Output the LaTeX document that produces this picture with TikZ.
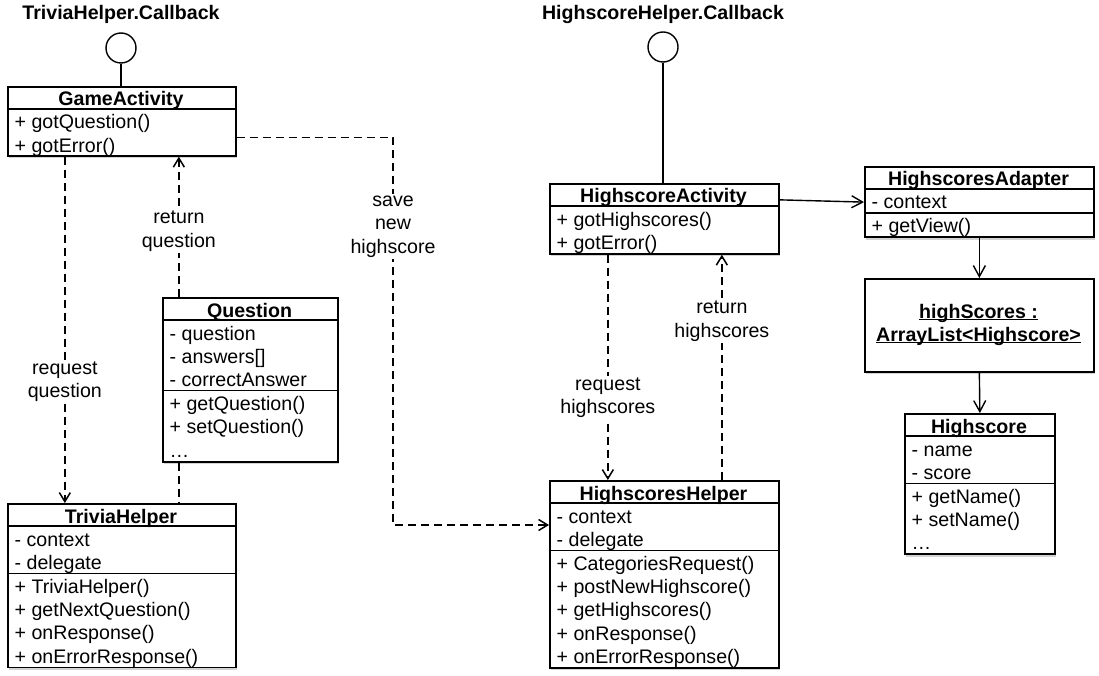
\documentclass[tikz,border=0pt]{standalone}
\usepackage{fontspec}
\setmainfont{Liberation Sans}
\usetikzlibrary{arrows.meta,shadows}

\tikzset{
  every node/.style={font=\fontsize{19.6}{23.3}\selectfont},
  classbox/.style={draw, line width=1.7pt, fill=white, anchor=north west, inner sep=0pt,
    drop shadow={opacity=0.35, shadow xshift=1.5pt, shadow yshift=-2.5pt}},
  ctitle/.style={anchor=base, inner sep=0pt, font=\fontsize{19.6}{23.3}\selectfont\bfseries},
  row/.style={anchor=base west, inner sep=0pt},
  divider/.style={line width=1.4pt},
  iface/.style={draw, circle, line width=1.4pt, minimum size=30pt, inner sep=0pt},
  lbl/.style={fill=white, align=center, inner sep=1.5pt},
  depline/.style={line width=1.5pt, dash pattern=on 8pt off 5pt},
  dep/.style={depline, -{Straight Barb[length=9pt,width=11pt]}},
  assoc/.style={line width=1.4pt, -{Straight Barb[length=11pt,width=12pt]}}
}

\begin{document}
\begin{tikzpicture}[x=1pt, y=-1pt]
\useasboundingbox (0,0) rectangle (1099,676);

% interfaces
\node[iface] (tcb) at (121,48) {};
\node[ctitle] (tcb-name) at (121,20) {TriviaHelper.Callback};
\node[iface] (hcb) at (663,47) {};
\node[ctitle] (hcb-name) at (663,20) {HighscoreHelper.Callback};

% GameActivity
\node[classbox, minimum width=228pt, minimum height=69pt] (ga) at (7,86) {};
\node[ctitle] (ga-t) at (121,106) {GameActivity};
\draw[divider] (ga.north west) ++(0,23) -- ++(228,0);
\foreach \r [count=\i] in {{+ gotQuestion()},{+ gotError()}}
  \node[row] (ga-\i) at (14.5,{129+23.3*(\i-1)}) {\r};

% Question
\node[classbox, minimum width=175pt, minimum height=164pt] (q) at (162,297) {};
\node[ctitle] (q-t) at (249.5,317) {Question};
\draw[divider] (q.north west) ++(0,23) -- ++(175,0);
\draw[divider] (q.north west) ++(0,93.6) -- ++(175,0);
\foreach \r [count=\i] in {{- question},{- answers[]},{- correctAnswer}}
  \node[row] (q-a\i) at (169.5,{340+23.3*(\i-1)}) {\r};
\foreach \r [count=\i] in {{+ getQuestion()},{+ setQuestion()},{…}}
  \node[row] (q-o\i) at (169.5,{410.6+23.3*(\i-1)}) {\r};

% TriviaHelper
\node[classbox, minimum width=228pt, minimum height=163.7pt] (th) at (7,503) {};
\node[ctitle] (th-t) at (121,523) {TriviaHelper};
\draw[divider] (th.north west) ++(0,23) -- ++(228,0);
\draw[divider] (th.north west) ++(0,70.3) -- ++(228,0);
\foreach \r [count=\i] in {{- context},{- delegate}}
  \node[row] (th-a\i) at (14.5,{546+23.3*(\i-1)}) {\r};
\foreach \r [count=\i] in {{+ TriviaHelper()},{+ getNextQuestion()},{+ onResponse()},{+ onErrorResponse()}}
  \node[row] (th-o\i) at (14.5,{593.3+23.3*(\i-1)}) {\r};

% HighscoreActivity
\node[classbox, minimum width=229pt, minimum height=70pt] (ha) at (549,183) {};
\node[ctitle] (ha-t) at (663.5,203) {HighscoreActivity};
\draw[divider] (ha.north west) ++(0,23) -- ++(229,0);
\foreach \r [count=\i] in {{+ gotHighscores()},{+ gotError()}}
  \node[row] (ha-\i) at (556.5,{226+23.3*(\i-1)}) {\r};

% HighscoresHelper
\node[classbox, minimum width=229pt, minimum height=187pt] (hh) at (549,480) {};
\node[ctitle] (hh-t) at (663.5,500) {HighscoresHelper};
\draw[divider] (hh.north west) ++(0,23) -- ++(229,0);
\draw[divider] (hh.north west) ++(0,70.3) -- ++(229,0);
\foreach \r [count=\i] in {{- context},{- delegate}}
  \node[row] (hh-a\i) at (556.5,{523+23.3*(\i-1)}) {\r};
\foreach \r [count=\i] in {{+ CategoriesRequest()},{+ postNewHighscore()},{+ getHighscores()},{+ onResponse()},{+ onErrorResponse()}}
  \node[row] (hh-o\i) at (556.5,{570.3+23.3*(\i-1)}) {\r};

% HighscoresAdapter
\node[classbox, minimum width=229pt, minimum height=70.5pt] (hd) at (864,166) {};
\node[ctitle] (hd-t) at (978.5,186) {HighscoresAdapter};
\draw[divider] (hd.north west) ++(0,23) -- ++(229,0);
\draw[divider] (hd.north west) ++(0,47) -- ++(229,0);
\node[row] (hd-a1) at (871.5,209) {- context};
\node[row] (hd-o1) at (871.5,233) {+ getView()};

% highScores object
\node[classbox, minimum width=229pt, minimum height=93pt] (hs) at (864,278) {};
\node[ctitle] (hs-t1) at (978.5,318) {\underline{\smash{highScores :}}};
\node[ctitle] (hs-t2) at (978.5,341) {\underline{\smash{ArrayList<Highscore>}}};

% Highscore
\node[classbox, minimum width=150pt, minimum height=140.4pt] (hc) at (904,413) {};
\node[ctitle] (hc-t) at (979,433) {Highscore};
\draw[divider] (hc.north west) ++(0,23) -- ++(150,0);
\draw[divider] (hc.north west) ++(0,70.3) -- ++(150,0);
\foreach \r [count=\i] in {{- name},{- score}}
  \node[row] (hc-a\i) at (911.5,{456+23.3*(\i-1)}) {\r};
\foreach \r [count=\i] in {{+ getName()},{+ setName()},{…}}
  \node[row] (hc-o\i) at (911.5,{503.3+23.3*(\i-1)}) {\r};

% interface lollipops
\draw[line width=1.4pt] (tcb.south) -- (tcb.south |- ga.north);
\draw[line width=1.4pt] (hcb.south) -- (hcb.south |- ha.north);

% trivia side
\draw[dep] ([xshift=-57pt]ga.south) -- node[lbl, pos=0.65]{request\\question} ([xshift=-57pt]th.north);
\draw[dep] ([xshift=-71.5pt]q.north) -- node[lbl, pos=0.47]{return\\question} ([xshift=57pt]ga.south);
\draw[depline] ([xshift=-71.5pt]q.south) -- ([xshift=57pt]th.north);

% save new highscore
\coordinate (save) at (393,525);
\draw[dep] ([yshift=-16pt]ga.east) -| node[lbl, pos=0.615]{save\\new\\highscore} (save) -- (save -| hh.west);

% highscore side
\draw[dep] ([xshift=-56.5pt]ha.south) -- node[lbl, pos=0.634]{request\\highscores} ([xshift=-56.5pt]hh.north);
\draw[dep] ([xshift=57.5pt]hh.north) -- node[lbl, pos=0.705]{return\\highscores} ([xshift=57.5pt]ha.south);
\draw[assoc] ([yshift=19pt]ha.east) -- (hd.west);
\draw[assoc] (hd.south) -- (hs.north);
\draw[assoc] (hs.south) -- (hc.north);
\end{tikzpicture}
\end{document}
